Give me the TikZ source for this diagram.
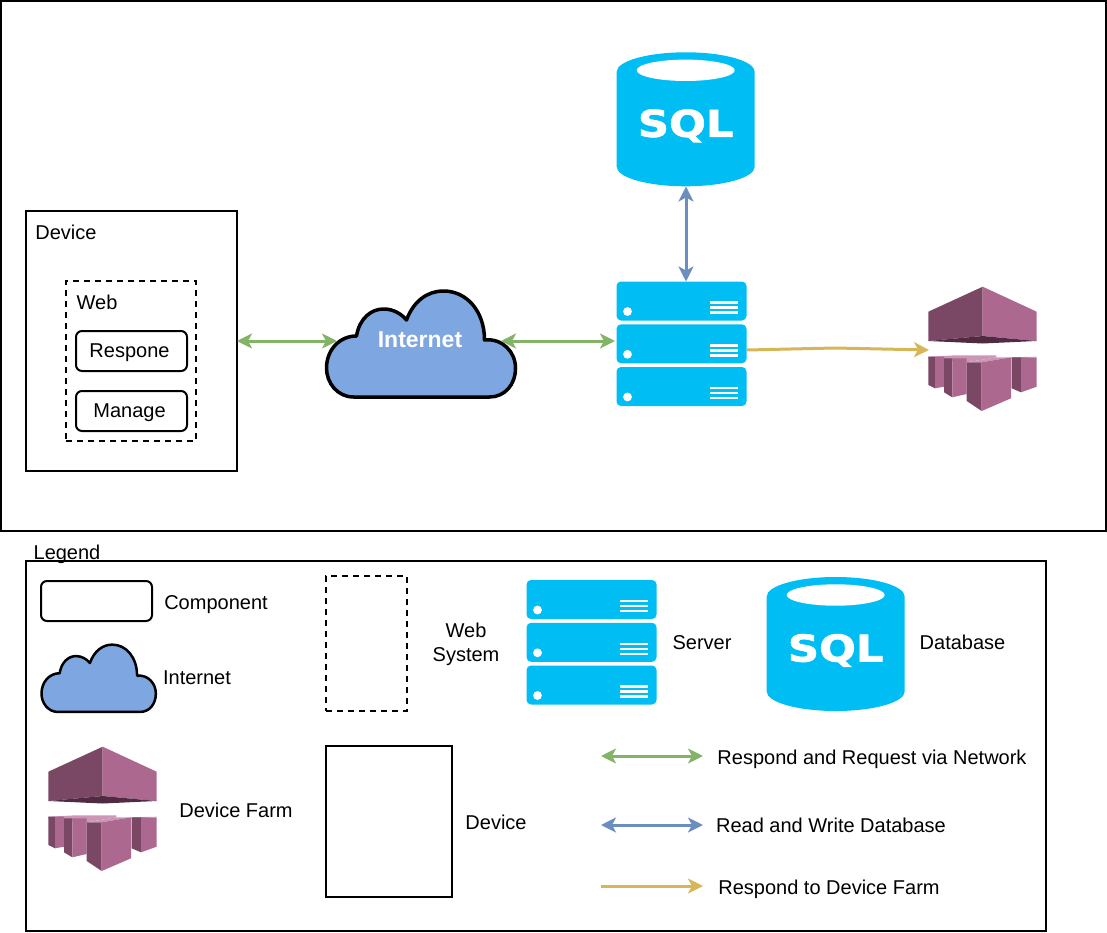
\documentclass[tikz,border=0pt]{standalone}
\usepackage{fontspec}
\setmainfont{Liberation Sans}
\newfontfamily\sqlfont[FakeBold=1.6]{DejaVu Sans}
\usetikzlibrary{arrows.meta, positioning}
\definecolor{azul}{RGB}{0, 190, 243}
\definecolor{nube}{RGB}{126, 166, 224}
\definecolor{verde}{RGB}{130, 179, 102}
\definecolor{acero}{RGB}{108, 142, 191}
\definecolor{oro}{RGB}{214, 182, 86}
\definecolor{rosa}{RGB}{173, 104, 143}
\definecolor{ciruela}{RGB}{122, 72, 100}
\definecolor{oscuro}{RGB}{80, 43, 65}
\definecolor{claro}{RGB}{205, 150, 182}
\tikzset{
    txt/.style={font=\fontsize{20}{24}\selectfont, align=center, inner sep=0pt, text depth=0pt},
    box/.style={draw, line width=2pt, inner sep=0pt, outer sep=0pt, anchor=north west},
    dashbox/.style={box, dash pattern=on 6pt off 5pt},
    comp/.style={box, rounded corners=6pt, minimum width=111pt, minimum height=40pt},
    net/.style={{Stealth[length=15pt, width=15pt, inset=4pt]}-{Stealth[length=15pt, width=15pt, inset=4pt]}, verde, line width=3pt},
    dbl/.style={net, acero},
    farmline/.style={-{Stealth[length=15pt, width=15pt, inset=4pt]}, oro, line width=3pt},
    pics/cloudicon/.style={code={
        \draw[fill=nube, line width=#1, line join=round] (27,107)
            .. controls (11,107) and (0,93) .. (0,78)
            .. controls (0,60) and (13,46) .. (30,46)
            .. controls (33,28) and (45,19) .. (57,19)
            .. controls (67,19) and (75,24) .. (80,30)
            .. controls (87,11) and (101,1) .. (117,1)
            .. controls (140,1) and (158,21) .. (158,50)
            .. controls (176,48) and (189,62) .. (189,78)
            .. controls (189,95) and (178,107) .. (163,107) -- cycle;
    }},
    pics/sqlicon/.style={code={
        \fill[azul] (0,19.5) arc[start angle=180, end angle=360, x radius=69, y radius=19.5]
            -- (138,114.5) arc[start angle=0, end angle=180, x radius=69, y radius=19.5] -- cycle;
        \fill[white] (69,18) ellipse[x radius=49, y radius=10.7];
        \node[text=white, inner sep=0pt] (-lbl) at (69,73.5) {\scalebox{1.17}[1]{\sqlfont\bfseries\fontsize{37}{37}\selectfont SQL}};
    }},
    pics/servericon/.style={code={
        \foreach \row in {0, 42.8, 85.5} {
            \begin{scope}[yshift=-\row pt]
                \fill[azul, rounded corners=4.5pt] (0,0) rectangle (130,39);
                \fill[white] (11,30) circle[radius=4.4];
                \foreach \bar in {21, 26, 31}
                    \fill[white] (93,\bar-1.2) rectangle (121.5,\bar+1.2);
            \end{scope}
        }
    }},
    pics/farmicon/.style={code={
        % upper block
        \fill[ciruela] (0,25) -- (54.4,0) -- (54.4,49.3) -- (0,54.3) -- cycle;
        \fill[rosa] (54.4,0) -- (108.4,25) -- (108.4,54.3) -- (54.4,49.3) -- cycle;
        \fill[oscuro] (0,54.3) -- (54.4,49.3) -- (108.4,54.3) -- (54.4,56.8) -- cycle;
        % lower blocks
        \fill[claro] (0,70) -- (28,68.6) -- (68,68.6) -- (68,70.6) -- (38.4,75.6) -- (0,72) -- cycle;
        \fill[claro] (83,70.6) -- (108.4,70) -- (83,72) -- cycle;
        \fill[ciruela] (0,70) -- (6.7,70) -- (6.7,101.6) -- (0,98.3) -- cycle;
        \fill[rosa] (6.7,70) -- (15.7,70) -- (15.7,100) -- (6.7,101.6) -- cycle;
        \fill[ciruela] (15.7,71.6) -- (24,71.6) -- (24,110.6) -- (15.7,105.6) -- cycle;
        \fill[rosa] (24,71.6) -- (38.4,71.6) -- (38.4,107.3) -- (24,110.6) -- cycle;
        \fill[ciruela] (83.4,70.6) -- (92.7,70.6) -- (92.7,105.6) -- (83.4,101.6) -- cycle;
        \fill[rosa] (92.7,70.6) -- (108.4,70.6) -- (108.4,100) -- (92.7,105.6) -- cycle;
        \fill[claro] (38.4,75.6) -- (68,70.6) -- (82.7,70.6) -- (53.4,75.6) -- cycle;
        \fill[ciruela] (38.4,75.6) -- (53.4,75.6) -- (53.4,124.3) -- (38.4,114.3) -- cycle;
        \fill[rosa] (53.4,75.6) -- (82.7,70.6) -- (82.7,111.6) -- (53.4,124.3) -- cycle;
    }},
}
\begin{document}
\begin{tikzpicture}[x=1pt, y=-1pt]
    \useasboundingbox (0,0) rectangle (1107,933);

    \node[box, minimum width=1105pt, minimum height=530pt] (frame) at (1,1) {};
    \node[box, minimum width=211pt, minimum height=260pt] (device) at (26,211) {};
    \node[txt] (deviceTxt) at (66,232) {Device};
    \node[dashbox, minimum width=130pt, minimum height=160pt] (web) at (66,281) {};
    \node[txt] (webTxt) at (97,302) {Web};
    \node[comp] (respone) at (76,331) {};
    \node[txt, xshift=-2pt] at (respone.center) {Respone};
    \node[comp] (manage) at (76,391) {};
    \node[txt, xshift=-2pt] at (manage.center) {Manage};

    \pic at (326.5,290) {cloudicon=3.5pt};
    \node[txt, text=white, font=\fontsize{23}{27}\bfseries\selectfont] (internet) at (420,340) {Internet};
    \coordinate (cloudW) at (337,341);
    \coordinate (cloudE) at (501,341);

    \pic (sql) at (616.7,52.3) {sqlicon};
    \coordinate (sqlS) at (686,186.5);
    \pic (srv) at (616.5,281.5) {servericon};
    \coordinate (srvN) at (686,281.5);
    \coordinate (srvW) at (615,341);
    \coordinate (srvE) at (747,350);
    \pic (farm) at (928.3,286.7) {farmicon};
    \coordinate (farmW) at (929,350);
    \coordinate (bend) at (835,348);

    \draw[net] (device.east) -- (cloudW);
    \draw[net] (cloudE) -- (srvW);
    \draw[dbl] (sqlS) -- (srvN);
    \draw[farmline] (srvE) -- (bend) -- (farmW);

    % legend
    \node[txt] (legendTxt) at (67,552) {Legend};
    \node[box, minimum width=1020pt, minimum height=370pt] (legend) at (26,561) {};
    \node[comp] (compKey) at (41,581) {};
    \node[txt] (compTxt) at (216,603) {Component};
    \pic[xscale=0.605, yscale=0.635] at (41.5,644) {cloudicon=2.5pt};
    \node[txt] (cloudTxt) at (197,678) {Internet};
    \node[dashbox, minimum width=81pt, minimum height=135pt] (webKey) at (326,576) {};
    \node[txt] (webKeyTxt) at (466,642) {Web\\System};
    \pic (srvKey) at (526.5,580) {servericon};
    \node[txt] (srvTxt) at (702,643) {Server};
    \pic (sqlKey) at (766.7,577) {sqlicon};
    \node[txt] (sqlTxt) at (962.5,642) {Database};
    \pic (farmKey) at (48.3,746.7) {farmicon};
    \node[txt] (farmTxt) at (236,810) {Device Farm};
    \node[box, minimum width=126pt, minimum height=151pt] (deviceKey) at (326,746) {};
    \node[txt] (deviceKeyTxt) at (496,822) {Device};

    \coordinate (a1) at (601,756);
    \coordinate (a2) at (703,756);
    \coordinate (b1) at (601,825);
    \coordinate (b2) at (703,825);
    \coordinate (c1) at (601,886);
    \coordinate (c2) at (703,886);
    \draw[net] (a1) -- (a2);
    \draw[dbl] (b1) -- (b2);
    \draw[farmline] (c1) -- (c2);
    \node[txt] (netTxt) at (872,757) {Respond and Request via Network};
    \node[txt] (dbTxt) at (831,825) {Read and Write Database};
    \node[txt] (farmKeyTxt) at (829,887) {Respond to Device Farm};
\end{tikzpicture}
\end{document}
